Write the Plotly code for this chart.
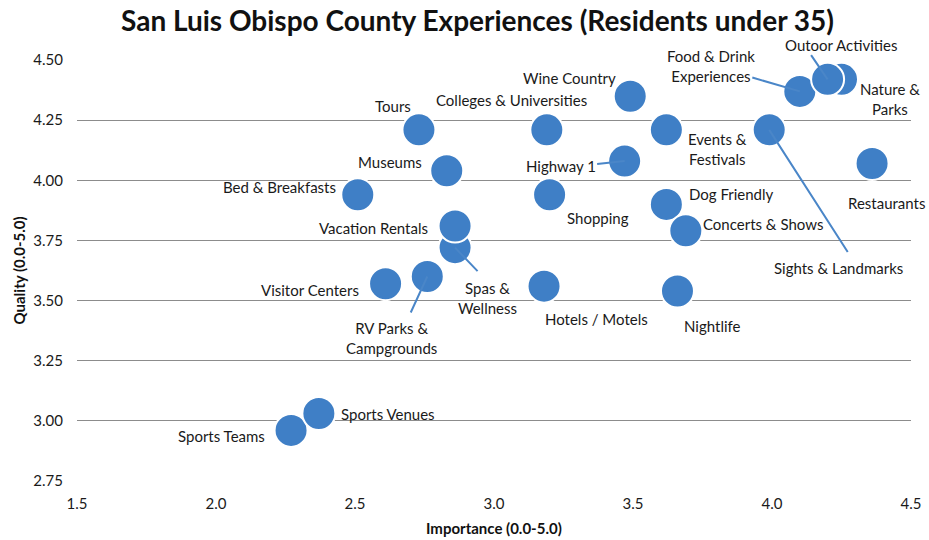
import plotly.graph_objects as go

# ---- data (drawing order matters for overlaps) ----
names = [
    "Tours", "Colleges & Universities", "Wine Country",
    "Nature & Parks", "Food & Drink Experiences", "Outoor Activities",
    "Museums", "Bed & Breakfasts", "Highway 1", "Events & Festivals",
    "Sights & Landmarks", "Restaurants", "Shopping", "Dog Friendly",
    "Concerts & Shows", "Spas & Wellness", "Vacation Rentals",
    "Visitor Centers", "RV Parks & Campgrounds", "Hotels / Motels",
    "Nightlife", "Sports Teams", "Sports Venues",
]
importance = [
    2.73, 3.19, 3.49,
    4.25, 4.10, 4.20,
    2.83, 2.51, 3.47, 3.62,
    3.99, 4.36, 3.20, 3.62,
    3.69, 2.86, 2.86,
    2.61, 2.76, 3.18,
    3.66, 2.27, 2.37,
]
quality = [
    4.21, 4.21, 4.35,
    4.42, 4.37, 4.42,
    4.04, 3.94, 4.08, 4.21,
    4.21, 4.07, 3.94, 3.90,
    3.79, 3.72, 3.81,
    3.57, 3.60, 3.56,
    3.54, 2.96, 3.03,
]
x_ticks = [1.5, 2.0, 2.5, 3.0, 3.5, 4.0, 4.5]
y_ticks = [2.75, 3.00, 3.25, 3.50, 3.75, 4.00, 4.25, 4.50]

# ---- label placement (pixel offsets from the bubble centre; dy downwards) ----
label_text = {
    "Food & Drink Experiences": "Food & Drink<br>Experiences",
    "Nature & Parks": "Nature &<br>Parks",
    "Events & Festivals": "Events &<br>Festivals",
    "Spas & Wellness": "Spas &<br>Wellness",
    "RV Parks & Campgrounds": "RV Parks &<br>Campgrounds",
}
label_offset = {
    "Tours": (-26, -24),
    "Colleges & Universities": (-35, -30),
    "Wine Country": (-61, -18),
    "Nature & Parks": (48, 20),
    "Food & Drink Experiences": (-89, -25),
    "Outoor Activities": (13, -34),
    "Museums": (-57, -9),
    "Bed & Breakfasts": (-78, -8),
    "Highway 1": (-64, 5),
    "Events & Festivals": (51, 19),
    "Sights & Landmarks": (69, 138),
    "Restaurants": (14, 39),
    "Shopping": (48, 23),
    "Dog Friendly": (65, -10),
    "Concerts & Shows": (77, -7),
    "Spas & Wellness": (32, 50),
    "Vacation Rentals": (-82, 2),
    "Visitor Centers": (-76, 6),
    "RV Parks & Campgrounds": (-36, 61),
    "Hotels / Motels": (52, 33),
    "Nightlife": (35, 35),
    "Sports Teams": (-70, 6),
    "Sports Venues": (69, 0),
}
# leader lines: start point offset from the bubble centre
leader_start = {
    "Outoor Activities": (-17, -25),
    "Food & Drink Experiences": (-48, -14),
    "Sights & Landmarks": (79, 123),
    "Highway 1": (-28, 3),
    "Spas & Wellness": (23, 24),
    "RV Parks & Campgrounds": (-17, 37),
}

BLUE = "#3f7fc6"
FONT = "Lato"

fig = go.Figure()
fig.add_trace(go.Scatter(
    x=importance, y=quality, mode="markers",
    marker=dict(size=33, color=BLUE, line=dict(color="white", width=2)),
    hoverinfo="text", text=names, showlegend=False,
))

annotations = []
for n, xv, yv in zip(names, importance, quality):
    if n in leader_start:
        ax, ay = leader_start[n]
        annotations.append(dict(
            x=xv, y=yv, xref="x", yref="y", text=" ", font=dict(size=1),
            showarrow=True, arrowhead=0, arrowwidth=2, arrowcolor="#4a86c8",
            standoff=0, ax=ax, ay=ay, borderpad=0,
        ))
for n, xv, yv in zip(names, importance, quality):
    dx, dy = label_offset[n]
    annotations.append(dict(
        x=xv, y=yv, xref="x", yref="y", text=label_text.get(n, n),
        showarrow=False, xshift=dx, yshift=-dy, align="center",
        font=dict(family=FONT, size=15, color="#1a1a1a"),
    ))

# axis titles
annotations.append(dict(
    text="<b>Importance (0.0-5.0)</b>", xref="paper", yref="paper",
    x=0.5, y=0, xanchor="center", yanchor="middle", yshift=-47,
    showarrow=False, font=dict(family=FONT, size=15, color="#111111"),
))
annotations.append(dict(
    text="<b>Quality (0.0-5.0)</b>", xref="paper", yref="paper",
    x=0, y=0.5, xanchor="center", yanchor="middle", xshift=-59,
    textangle=-90, showarrow=False,
    font=dict(family=FONT, size=15, color="#111111"),
))

fig.update_layout(
    width=929, height=540,
    margin=dict(l=77, r=18, t=60, b=59, autoexpand=False),
    paper_bgcolor="white", plot_bgcolor="white",
    font=dict(family=FONT, color="#1a1a1a"),
    title=dict(
        text="<b>San Luis Obispo County Experiences (Residents under 35)</b>",
        xref="container", x=0.514, xanchor="center",
        yref="container", y=1 - 21 / 540, yanchor="middle",
        font=dict(family=FONT, size=28, color="#111111"),
        automargin=False,
    ),
    xaxis=dict(
        range=[1.5, 4.5], tickvals=x_ticks,
        ticktext=[f"{v:.1f}" for v in x_ticks],
        showgrid=False, zeroline=False, showline=False,
        ticks="outside", ticklen=9, tickcolor="rgba(0,0,0,0)",
        tickfont=dict(family=FONT, size=15, color="#1a1a1a"),
        automargin=False, fixedrange=True,
    ),
    yaxis=dict(
        range=[2.7495, 4.5005], tickvals=y_ticks,
        ticktext=[f"{v:.2f}" for v in y_ticks],
        showgrid=True, gridcolor="#8c8c8c", gridwidth=1,
        zeroline=False, showline=False,
        ticks="outside", ticklen=10, tickcolor="rgba(0,0,0,0)",
        tickfont=dict(family=FONT, size=15, color="#1a1a1a"),
        automargin=False, fixedrange=True,
    ),
    annotations=annotations,
)

fig.write_html(
    "out.html",
    config={"displayModeBar": False},
    post_script="document.body.style.margin='0';document.body.style.overflow='hidden';",
)
